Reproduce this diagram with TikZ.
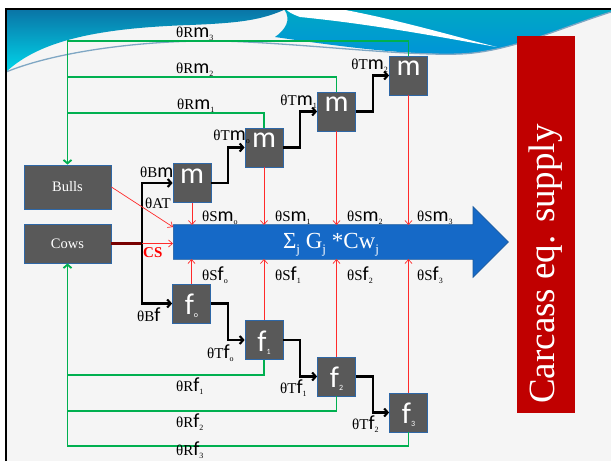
\documentclass[tikz,border=0pt]{standalone}
\usepackage{fontspec}
\setmainfont{Liberation Serif}
\newfontfamily\calib{Carlito}
\usetikzlibrary{arrows.meta,shapes.arrows}
\definecolor{boxgray}{HTML}{595959}
\definecolor{boxedge}{HTML}{2E67A6}
\definecolor{grn}{HTML}{00B050}
\definecolor{redl}{HTML}{FF2A2A}
\definecolor{darkred}{HTML}{780000}
\definecolor{arrblue}{HTML}{1569C7}
\definecolor{arredge}{HTML}{1A5A9E}
\definecolor{cred}{HTML}{C00000}
\definecolor{bgc}{HTML}{F5F5F5}
\definecolor{hdark}{HTML}{0A74A6}
\definecolor{hcyan}{HTML}{00D6EA}
\definecolor{hteal}{HTML}{00A8C4}
\definecolor{hblue}{HTML}{0094D8}
\definecolor{hline}{HTML}{7FA7C4}
\newcommand\thx[3]{θ#1{\calib\fontsize{20}{20}\selectfont #2}{\fontsize{8}{8}\selectfont\raisebox{-3.5pt}{#3}}}
\newcommand\bsub[1]{{\fontsize{8}{8}\selectfont\raisebox{-3pt}{#1}}}
\newcommand\wsub[1]{{\fontsize{13}{13}\selectfont\raisebox{-5pt}{#1}}}
\tikzset{
  box/.style={draw=boxedge, fill=boxgray, line width=0.8pt, minimum width=38pt, minimum height=39pt, inner sep=0pt},
  animal/.style={box, minimum width=87pt, font=\fontsize{14.5}{16}\selectfont, text=white},
  boxlab/.style={inner sep=0pt, text=white, font=\calib\fontsize{30}{30}\selectfont},
  lab/.style={inner sep=0pt, font=\fontsize{15}{15}\selectfont},
  blk/.style={draw=black, line width=2.1pt, -{Straight Barb[length=3.5pt,width=8pt]}},
  blkline/.style={draw=black, line width=2.1pt},
  gline/.style={draw=grn, line width=1.8pt},
  garr/.style={gline, -{Straight Barb[length=3.5pt,width=8pt]}},
  rarr/.style={draw=redl, line width=0.7pt, -{Straight Barb[length=4pt,width=7pt]}},
}
\begin{document}
\begin{tikzpicture}[x=1pt,y=-1pt]
\useasboundingbox (0,0) rectangle (611,461);
\fill[white] (0,0) rectangle (611,461);
\fill[bgc] (6,9) rectangle (611,461);
% header wave
\shade[top color=hdark, bottom color=hcyan] (6,9) -- (286,9) .. controls (262,20) and (240,23) .. (190,25) .. controls (100,28) and (40,40) .. (6,72) -- cycle;
\shade[top color=hteal, bottom color=hblue] (284,9) -- (611,9) -- (611,12) .. controls (560,28) and (510,52) .. (460,54) .. controls (400,55) and (330,45) .. (275,37) .. controls (285,30) and (292,20) .. (284,9) -- cycle;
\fill[white] (286,9) -- (340,9) .. controls (400,20) and (460,38) .. (497,47) .. controls (450,39) and (380,25) .. (300,17) .. controls (292,14) and (288,12) .. (286,9) -- cycle;
\draw[hline, line width=1.3pt] (6,72) .. controls (60,50) and (150,40) .. (220,41) .. controls (300,43) and (400,56) .. (460,54) .. controls (510,52) and (560,28) .. (611,12);
% frame
\draw[black, line width=2.5pt] (6,461) -- (6,9) -- (611,9);

% carcass box
\node[fill=cred, minimum width=58pt, minimum height=377pt, inner sep=0pt] (cbox) at (546,224.5) {};
\node[rotate=90, text=white, inner sep=0pt, font=\fontsize{37}{37}\selectfont] (ctext) at (546,264) {Carcass eq. supply};

% coordinates
\coordinate (btop) at (0,225);
\coordinate (bbot) at (0,259);
\coordinate (tr) at (142,243.5);
\coordinate (bullend) at (173,227);
\coordinate (r1) at (67.5,113);
\coordinate (r2) at (67.5,77);
\coordinate (r3) at (67.5,41);
\coordinate (q1) at (67.5,375);
\coordinate (q2) at (67.5,411);
\coordinate (q3) at (67.5,446);

% big arrow
\node[single arrow, fill=arrblue, draw=arredge, line width=0.6pt, minimum height=335pt, single arrow head extend=18pt, text height=17pt, text depth=17pt, inner xsep=0pt, inner ysep=0pt, anchor=west] (sum) at (173,242) {};
\node[inner sep=0pt, text=white, font=\fontsize{23}{23}\selectfont, anchor=base] (sumt) at (331,248) {Σ\wsub{j} G\wsub{j} *Cw\wsub{j}};

% boxes
\node[animal, minimum height=44pt] (bulls) at (67.5,187) {Bulls};
\node[animal] (cows) at (67.5,243.5) {Cows};
\node[box] (mB) at (192,183) {};
\node[box] (m1) at (264,147.5) {};
\node[box] (m2) at (336.5,111.5) {};
\node[box] (m3) at (408.5,75.5) {};
\node[box] (f0) at (191.5,303.5) {};
\node[box] (f1) at (264,340) {};
\node[box] (f2) at (336.5,376.5) {};
\node[box] (f3) at (408.5,412.5) {};
\node[boxlab, anchor=base] (mBt) at (mB.center) {m};
\node[boxlab, anchor=base] (m1t) at (m1.center) {m};
\node[boxlab, anchor=base] (m2t) at (m2.center) {m};
\node[boxlab, anchor=base] (m3t) at (m3.center) {m};
\node[boxlab, anchor=base] (f0t) at ([yshift=-11pt]f0.center) {f\bsub{o}};
\node[boxlab, anchor=base] (f1t) at ([yshift=-11pt]f1.center) {f\bsub{1}};
\node[boxlab, anchor=base] (f2t) at ([yshift=-11pt]f2.center) {f\bsub{2}};
\node[boxlab, anchor=base] (f3t) at ([yshift=-11pt]f3.center) {f\bsub{3}};

% green feedback
\draw[garr] (m3.north) |- (r3) -- (bulls.north);
\draw[gline] (m2.north) |- (r2);
\draw[gline] (m1.north) |- (r1);
\draw[garr] (f3.south) |- (q3) -- (cows.south);
\draw[gline] (f2.south) |- (q2);
\draw[gline] (f1.south) |- (q1);

% black flows
\draw[blkline, draw=darkred, line width=2.3pt] (cows.east) -- (tr);
\draw[blk] (tr) |- (mB.west);
\draw[blk] (tr) |- (f0.west);
\draw[blk] (mB.east) -- ++(17,0) |- (m1.west);
\draw[blk] (m1.east) -- ++(17,0) |- (m2.west);
\draw[blk] (m2.east) -- ++(17,0) |- (m3.west);
\draw[blk] (f0.east) -- ++(17,0) |- (f1.west);
\draw[blk] (f1.east) -- ++(17,0) |- (f2.west);
\draw[blk] (f2.east) -- ++(17,0) |- (f3.west);

% red flows
\draw[rarr] (bulls.east) -- (bullend);
\draw[rarr] (tr) -- (tr -| sum.west);
\draw[rarr] (mB.south) -- (mB |- btop);
\draw[rarr] (m1.south) -- (m1 |- btop);
\draw[rarr] (m2.south) -- (m2 |- btop);
\draw[rarr] (m3.south) -- (m3 |- btop);
\draw[rarr] (f0.north) -- (f0 |- bbot);
\draw[rarr] (f1.north) -- (f1 |- bbot);
\draw[rarr] (f2.north) -- (f2 |- bbot);
\draw[rarr] (f3.north) -- (f3 |- bbot);

% labels
\node[lab, anchor=base west] (lRm3) at (176,37) {\thx{R}{m}{3}};
\node[lab, anchor=base west] (lRm2) at (176,73) {\thx{R}{m}{2}};
\node[lab, anchor=base west] (lRm1) at (177,109) {\thx{R}{m}{1}};
\node[lab, anchor=base west] (lRf1) at (176,391) {\thx{R}{f}{1}};
\node[lab, anchor=base west] (lRf2) at (176,427) {\thx{R}{f}{2}};
\node[lab, anchor=base west] (lRf3) at (176,455) {\thx{R}{f}{3}};
\node[lab, anchor=base east] (lTm0) at (250,140) {\thx{T}{m}{o}};
\node[lab, anchor=base east] (lTm1) at (317,105) {\thx{T}{m}{1}};
\node[lab, anchor=base east] (lTm2) at (388,69) {\thx{T}{m}{2}};
\node[lab, anchor=base west] (lTf0) at (207,358) {\thx{T}{f}{o}};
\node[lab, anchor=base west] (lTf1) at (280,393) {\thx{T}{f}{1}};
\node[lab, anchor=base west] (lTf2) at (352,429) {\thx{T}{f}{2}};
\node[lab, anchor=base west] (lSm0) at (202,221) {\thx{S}{m}{o}};
\node[lab, anchor=base west] (lSm1) at (275,221) {\thx{S}{m}{1}};
\node[lab, anchor=base west] (lSm2) at (347,221) {\thx{S}{m}{2}};
\node[lab, anchor=base west] (lSm3) at (417,221) {\thx{S}{m}{3}};
\node[lab, anchor=base west] (lSf0) at (202,280) {\thx{S}{f}{o}};
\node[lab, anchor=base west] (lSf1) at (275,280) {\thx{S}{f}{1}};
\node[lab, anchor=base west] (lSf2) at (347,280) {\thx{S}{f}{2}};
\node[lab, anchor=base west] (lSf3) at (417,280) {\thx{S}{f}{3}};
\node[lab, anchor=base west] (lBm) at (140,177) {\thx{B}{m}{}};
\node[lab, anchor=base west] (lAT) at (145,208) {θAT};
\node[lab, anchor=base west] (lBf) at (137,321) {\thx{B}{f}{}};
\node[lab, anchor=base west, text=red, font=\bfseries\fontsize{15}{15}\selectfont] (lCS) at (143,257) {CS};
\end{tikzpicture}
\end{document}
